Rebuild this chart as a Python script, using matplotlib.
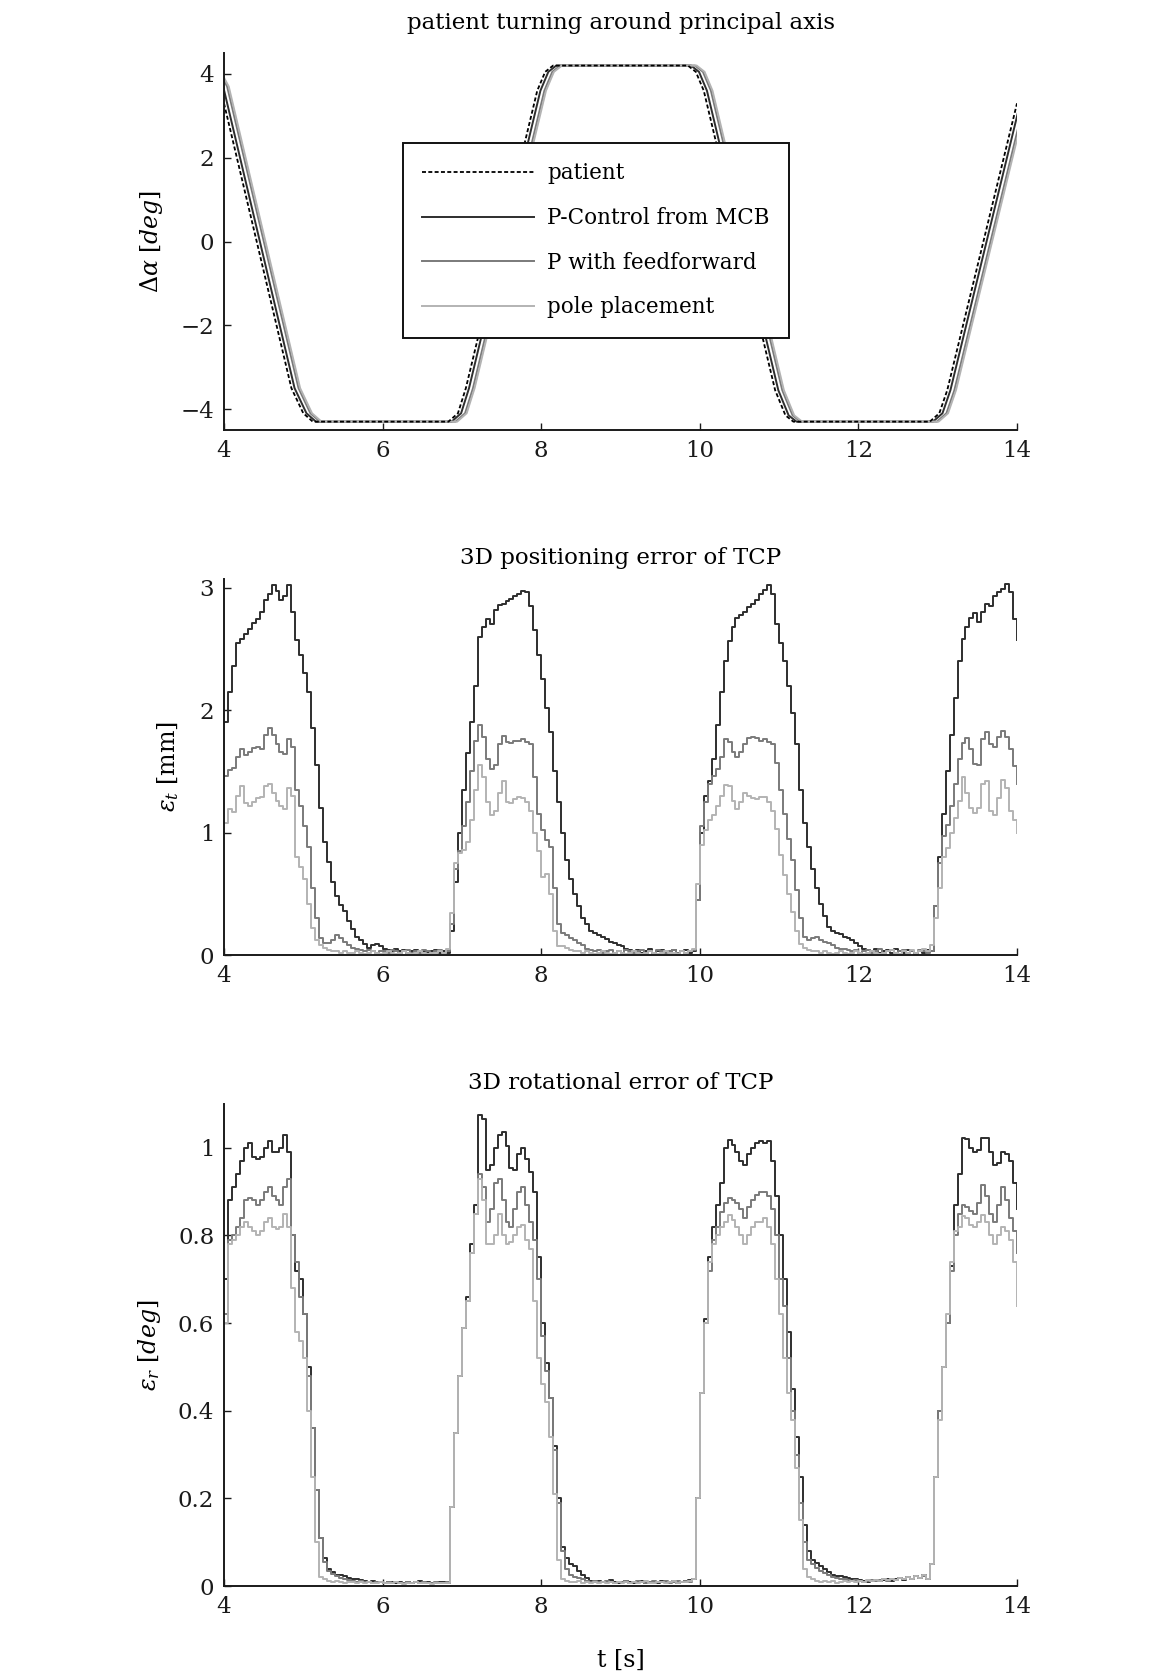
import numpy as np
import matplotlib
matplotlib.use("Agg")
import matplotlib.pyplot as plt

# ---------------- data ----------------
# top panel: rotation angle breakpoints (deg)
alpha_levels = [4.20, 4.05, 3.70, -3.50, -4.10, -4.30, -4.30, -4.10, -3.50, 3.60, 4.05,
                4.20, 4.20, 4.05, 3.60, -3.55, -4.15, -4.30, -4.30, -4.10, -3.55, 3.30]
t_patient = [3.75, 3.85, 3.95, 4.85, 5.00, 5.12, 6.83, 6.95, 7.05, 7.95, 8.05,
             8.15, 9.85, 9.95, 10.05, 10.95, 11.08, 11.18, 12.90, 13.02, 13.12, 14.00]
t_mcb = [3.79, 3.89, 3.99, 4.89, 5.04, 5.16, 6.87, 6.99, 7.09, 7.99, 8.09,
         8.19, 9.89, 9.99, 10.09, 10.99, 11.12, 11.22, 12.94, 13.06, 13.16, 14.04]
t_ff = [3.84, 3.94, 4.04, 4.94, 5.09, 5.21, 6.92, 7.04, 7.14, 8.04, 8.14,
        8.24, 9.94, 10.04, 10.14, 11.04, 11.17, 11.27, 12.99, 13.11, 13.21, 14.09]
t_pp = [3.86, 3.96, 4.06, 4.96, 5.11, 5.23, 6.94, 7.06, 7.16, 8.06, 8.16,
        8.26, 9.96, 10.06, 10.16, 11.06, 11.19, 11.29, 13.01, 13.13, 13.23, 14.11]

# error panels: samples every 0.05 s from 4.00 s to 14.00 s (one row = one second)
et_mcb = [
    1.90, 2.15, 2.36, 2.55, 2.58, 2.62, 2.66, 2.71, 2.74, 2.80, 2.90, 2.95, 3.02, 2.97, 2.90, 2.93, 3.02, 2.80, 2.57, 2.45,
    2.30, 2.15, 1.85, 1.55, 1.20, 0.92, 0.76, 0.60, 0.48, 0.41, 0.36, 0.28, 0.21, 0.15, 0.12, 0.09, 0.06, 0.08, 0.09, 0.07,
    0.05, 0.04, 0.03, 0.05, 0.03, 0.04, 0.02, 0.03, 0.04, 0.02, 0.03, 0.02, 0.03, 0.04, 0.02, 0.03, 0.02, 0.20, 0.60, 1.00,
    1.35, 1.65, 1.90, 2.20, 2.60, 2.68, 2.74, 2.70, 2.82, 2.86, 2.87, 2.89, 2.91, 2.93, 2.95, 2.97, 2.96, 2.85, 2.65, 2.45,
    2.25, 2.02, 1.82, 1.50, 1.25, 1.00, 0.78, 0.62, 0.50, 0.40, 0.30, 0.25, 0.20, 0.18, 0.16, 0.15, 0.13, 0.11, 0.10, 0.08,
    0.07, 0.05, 0.04, 0.03, 0.04, 0.02, 0.03, 0.05, 0.02, 0.03, 0.04, 0.02, 0.03, 0.04, 0.02, 0.03, 0.04, 0.02, 0.03, 0.45,
    1.00, 1.30, 1.42, 1.60, 1.88, 2.15, 2.40, 2.56, 2.68, 2.75, 2.78, 2.80, 2.84, 2.87, 2.90, 2.95, 2.98, 3.02, 2.95, 2.70,
    2.55, 2.40, 2.20, 1.98, 1.72, 1.35, 1.08, 0.88, 0.70, 0.55, 0.42, 0.32, 0.23, 0.20, 0.18, 0.17, 0.15, 0.14, 0.12, 0.10,
    0.07, 0.05, 0.04, 0.03, 0.05, 0.02, 0.03, 0.04, 0.02, 0.05, 0.03, 0.02, 0.04, 0.03, 0.01, 0.03, 0.02, 0.04, 0.03, 0.40,
    0.80, 1.15, 1.50, 1.80, 2.10, 2.40, 2.58, 2.68, 2.75, 2.79, 2.72, 2.80, 2.87, 2.85, 2.93, 2.96, 2.99, 3.03, 2.96, 2.74,
    2.57]
et_ff = [
    1.46, 1.51, 1.53, 1.62, 1.68, 1.63, 1.66, 1.69, 1.70, 1.68, 1.80, 1.85, 1.80, 1.72, 1.66, 1.64, 1.76, 1.70, 1.35, 1.22,
    1.05, 0.88, 0.55, 0.30, 0.14, 0.10, 0.10, 0.12, 0.16, 0.14, 0.11, 0.08, 0.06, 0.05, 0.04, 0.03, 0.04, 0.03, 0.02, 0.03,
    0.03, 0.02, 0.04, 0.03, 0.02, 0.03, 0.04, 0.02, 0.03, 0.02, 0.04, 0.03, 0.02, 0.03, 0.04, 0.02, 0.03, 0.25, 0.70, 0.85,
    1.05, 1.25, 1.50, 1.75, 1.88, 1.78, 1.60, 1.52, 1.55, 1.72, 1.79, 1.74, 1.73, 1.75, 1.75, 1.76, 1.74, 1.72, 1.45, 1.15,
    1.02, 0.94, 0.88, 0.55, 0.25, 0.18, 0.16, 0.14, 0.12, 0.10, 0.08, 0.05, 0.04, 0.03, 0.04, 0.02, 0.03, 0.04, 0.02, 0.03,
    0.02, 0.04, 0.03, 0.02, 0.03, 0.04, 0.02, 0.03, 0.02, 0.04, 0.03, 0.02, 0.03, 0.04, 0.02, 0.03, 0.02, 0.03, 0.04, 0.45,
    1.05, 1.25, 1.40, 1.46, 1.52, 1.62, 1.76, 1.74, 1.66, 1.62, 1.66, 1.72, 1.77, 1.78, 1.77, 1.75, 1.76, 1.74, 1.72, 1.57,
    1.35, 1.15, 0.95, 0.78, 0.53, 0.30, 0.15, 0.12, 0.14, 0.15, 0.12, 0.11, 0.10, 0.08, 0.06, 0.05, 0.05, 0.04, 0.03, 0.04,
    0.02, 0.03, 0.04, 0.02, 0.03, 0.05, 0.02, 0.03, 0.04, 0.02, 0.03, 0.04, 0.02, 0.03, 0.02, 0.04, 0.03, 0.02, 0.03, 0.40,
    0.75, 0.97, 1.06, 1.22, 1.40, 1.60, 1.73, 1.77, 1.68, 1.56, 1.55, 1.76, 1.82, 1.72, 1.70, 1.78, 1.83, 1.78, 1.68, 1.54,
    1.40]
et_pp = [
    1.08, 1.19, 1.17, 1.30, 1.38, 1.24, 1.22, 1.25, 1.28, 1.29, 1.38, 1.40, 1.32, 1.26, 1.22, 1.19, 1.36, 1.30, 0.80, 0.72,
    0.62, 0.42, 0.22, 0.12, 0.08, 0.06, 0.04, 0.03, 0.03, 0.02, 0.03, 0.02, 0.02, 0.03, 0.02, 0.01, 0.02, 0.03, 0.02, 0.01,
    0.02, 0.03, 0.02, 0.01, 0.02, 0.03, 0.02, 0.01, 0.02, 0.03, 0.02, 0.01, 0.02, 0.02, 0.03, 0.02, 0.05, 0.34, 0.75, 0.83,
    0.86, 0.92, 1.10, 1.35, 1.55, 1.45, 1.25, 1.14, 1.18, 1.32, 1.42, 1.25, 1.24, 1.27, 1.29, 1.28, 1.25, 1.18, 1.00, 0.85,
    0.64, 0.66, 0.50, 0.20, 0.07, 0.07, 0.06, 0.04, 0.03, 0.03, 0.02, 0.03, 0.02, 0.01, 0.02, 0.03, 0.02, 0.01, 0.02, 0.03,
    0.02, 0.01, 0.02, 0.03, 0.02, 0.01, 0.02, 0.03, 0.02, 0.01, 0.02, 0.03, 0.02, 0.02, 0.01, 0.03, 0.02, 0.03, 0.05, 0.58,
    0.90, 1.02, 1.10, 1.14, 1.22, 1.30, 1.39, 1.38, 1.26, 1.19, 1.25, 1.32, 1.30, 1.28, 1.27, 1.29, 1.29, 1.25, 1.18, 1.03,
    0.82, 0.65, 0.50, 0.35, 0.20, 0.09, 0.06, 0.04, 0.03, 0.03, 0.02, 0.03, 0.02, 0.01, 0.02, 0.03, 0.02, 0.01, 0.02, 0.03,
    0.02, 0.01, 0.02, 0.03, 0.02, 0.01, 0.02, 0.03, 0.04, 0.02, 0.01, 0.03, 0.02, 0.04, 0.02, 0.03, 0.05, 0.03, 0.08, 0.30,
    0.55, 0.80, 0.87, 1.00, 1.12, 1.26, 1.45, 1.32, 1.20, 1.16, 1.20, 1.40, 1.42, 1.18, 1.14, 1.28, 1.43, 1.36, 1.18, 1.10,
    1.00]

er_mcb = [
    0.70, 0.88, 0.91, 0.94, 0.97, 1.00, 1.01, 0.98, 0.975, 0.98, 1.00, 1.015, 0.99, 0.99, 1.00, 1.03, 0.99, 0.80, 0.72, 0.70,
    0.62, 0.50, 0.36, 0.22, 0.11, 0.065, 0.04, 0.032, 0.025, 0.025, 0.022, 0.018, 0.016, 0.015, 0.013, 0.012, 0.010, 0.011, 0.009, 0.010,
    0.008, 0.010, 0.009, 0.007, 0.010, 0.008, 0.009, 0.007, 0.010, 0.012, 0.008, 0.009, 0.007, 0.008, 0.010, 0.009, 0.008, 0.18, 0.35, 0.48,
    0.59, 0.66, 0.78, 0.87, 1.075, 1.065, 0.95, 0.96, 1.00, 1.03, 1.037, 1.005, 0.955, 0.95, 0.985, 1.00, 0.975, 0.945, 0.90, 0.75,
    0.60, 0.51, 0.43, 0.32, 0.20, 0.09, 0.065, 0.05, 0.045, 0.035, 0.025, 0.018, 0.012, 0.010, 0.012, 0.009, 0.010, 0.013, 0.010, 0.008,
    0.010, 0.012, 0.009, 0.008, 0.010, 0.011, 0.008, 0.009, 0.010, 0.008, 0.011, 0.009, 0.010, 0.012, 0.008, 0.010, 0.012, 0.014, 0.015, 0.20,
    0.44, 0.61, 0.75, 0.82, 0.87, 0.92, 1.00, 1.018, 1.007, 0.99, 0.97, 0.96, 0.985, 1.00, 1.01, 1.015, 1.01, 1.015, 0.97, 0.89,
    0.80, 0.70, 0.58, 0.45, 0.34, 0.25, 0.14, 0.08, 0.06, 0.052, 0.046, 0.04, 0.033, 0.026, 0.024, 0.022, 0.020, 0.018, 0.017, 0.015,
    0.014, 0.012, 0.010, 0.012, 0.014, 0.011, 0.013, 0.016, 0.012, 0.015, 0.018, 0.014, 0.020, 0.016, 0.022, 0.018, 0.025, 0.015, 0.05, 0.25,
    0.40, 0.50, 0.60, 0.73, 0.87, 0.94, 1.022, 1.02, 1.00, 0.99, 0.995, 1.022, 1.022, 0.99, 0.96, 0.965, 0.99, 0.985, 0.97, 0.92,
    0.86]
er_ff = [
    0.62, 0.79, 0.80, 0.82, 0.84, 0.88, 0.885, 0.88, 0.87, 0.88, 0.90, 0.91, 0.89, 0.88, 0.87, 0.91, 0.93, 0.80, 0.74, 0.66,
    0.62, 0.48, 0.36, 0.22, 0.11, 0.055, 0.035, 0.028, 0.022, 0.018, 0.015, 0.013, 0.012, 0.010, 0.011, 0.009, 0.010, 0.008, 0.009, 0.010,
    0.008, 0.009, 0.007, 0.010, 0.008, 0.006, 0.009, 0.008, 0.010, 0.007, 0.009, 0.008, 0.006, 0.009, 0.008, 0.007, 0.009, 0.18, 0.35, 0.48,
    0.59, 0.65, 0.76, 0.85, 0.94, 0.91, 0.83, 0.86, 0.92, 0.93, 0.88, 0.83, 0.82, 0.86, 0.90, 0.91, 0.87, 0.83, 0.79, 0.70,
    0.57, 0.49, 0.43, 0.31, 0.19, 0.08, 0.04, 0.025, 0.020, 0.018, 0.015, 0.012, 0.010, 0.011, 0.009, 0.010, 0.012, 0.009, 0.008, 0.010,
    0.009, 0.011, 0.008, 0.010, 0.012, 0.009, 0.008, 0.010, 0.011, 0.009, 0.010, 0.012, 0.008, 0.010, 0.011, 0.009, 0.012, 0.010, 0.015, 0.20,
    0.44, 0.60, 0.72, 0.79, 0.82, 0.854, 0.875, 0.885, 0.88, 0.875, 0.86, 0.84, 0.865, 0.88, 0.893, 0.90, 0.90, 0.89, 0.86, 0.80,
    0.70, 0.64, 0.52, 0.40, 0.30, 0.19, 0.10, 0.06, 0.05, 0.042, 0.035, 0.030, 0.025, 0.020, 0.018, 0.016, 0.015, 0.014, 0.012, 0.013,
    0.012, 0.010, 0.012, 0.014, 0.011, 0.013, 0.015, 0.012, 0.016, 0.014, 0.018, 0.015, 0.020, 0.017, 0.022, 0.019, 0.024, 0.016, 0.05, 0.25,
    0.40, 0.50, 0.60, 0.72, 0.80, 0.85, 0.87, 0.865, 0.855, 0.85, 0.875, 0.915, 0.89, 0.85, 0.83, 0.87, 0.91, 0.88, 0.84, 0.81,
    0.76]
er_pp = [
    0.60, 0.78, 0.79, 0.80, 0.82, 0.83, 0.82, 0.81, 0.80, 0.81, 0.83, 0.84, 0.82, 0.815, 0.82, 0.85, 0.82, 0.68, 0.58, 0.56,
    0.52, 0.40, 0.25, 0.10, 0.02, 0.015, 0.012, 0.010, 0.012, 0.010, 0.008, 0.010, 0.009, 0.007, 0.009, 0.008, 0.010, 0.007, 0.008, 0.009,
    0.007, 0.008, 0.006, 0.009, 0.007, 0.005, 0.008, 0.007, 0.009, 0.006, 0.008, 0.007, 0.005, 0.008, 0.007, 0.006, 0.008, 0.18, 0.35, 0.48,
    0.59, 0.65, 0.76, 0.85, 0.93, 0.88, 0.78, 0.78, 0.80, 0.85, 0.80, 0.78, 0.785, 0.80, 0.82, 0.825, 0.79, 0.77, 0.65, 0.52,
    0.46, 0.42, 0.34, 0.21, 0.06, 0.015, 0.012, 0.010, 0.009, 0.011, 0.008, 0.010, 0.007, 0.009, 0.008, 0.010, 0.007, 0.009, 0.008, 0.010,
    0.008, 0.009, 0.007, 0.010, 0.008, 0.009, 0.011, 0.008, 0.007, 0.009, 0.010, 0.008, 0.009, 0.011, 0.007, 0.009, 0.010, 0.012, 0.015, 0.20,
    0.44, 0.60, 0.74, 0.78, 0.80, 0.82, 0.83, 0.846, 0.835, 0.82, 0.80, 0.78, 0.80, 0.82, 0.83, 0.83, 0.84, 0.82, 0.78, 0.70,
    0.62, 0.52, 0.44, 0.38, 0.27, 0.15, 0.04, 0.02, 0.015, 0.012, 0.010, 0.012, 0.009, 0.011, 0.008, 0.010, 0.012, 0.009, 0.011, 0.010,
    0.012, 0.010, 0.013, 0.011, 0.014, 0.012, 0.015, 0.013, 0.017, 0.014, 0.019, 0.015, 0.021, 0.017, 0.023, 0.018, 0.025, 0.016, 0.05, 0.25,
    0.38, 0.50, 0.62, 0.74, 0.81, 0.82, 0.845, 0.84, 0.825, 0.82, 0.83, 0.846, 0.83, 0.80, 0.78, 0.80, 0.82, 0.81, 0.79, 0.74,
    0.64]

labels = ["patient", "P-Control from MCB", "P with feedforward", "pole placement"]
colors = ["#000000", "#2e2e2e", "#7a7a7a", "#b3b3b3"]
xticks = [4, 6, 8, 10, 12, 14]

t_err = 4.0 + 0.05 * np.arange(len(et_mcb))

# ---------------- figure ----------------
plt.rcParams["font.family"] = ["DejaVu Serif"]
plt.rcParams["mathtext.fontset"] = "dejavuserif"

fig = plt.figure(figsize=(11.51, 16.72), dpi=100)
ax1 = fig.add_axes([0.1946, 0.7428, 0.689, 0.2255])
ax2 = fig.add_axes([0.1946, 0.4288, 0.689, 0.2249])
ax3 = fig.add_axes([0.1946, 0.0514, 0.689, 0.2883])


def style(ax, ylim, yticks, yticklabels):
    ax.set_xlim(4, 14)
    ax.set_ylim(*ylim)
    for s in ["top", "right"]:
        ax.spines[s].set_visible(False)
    for s in ["left", "bottom"]:
        ax.spines[s].set_linewidth(1.4)
        ax.spines[s].set_color("#1a1a1a")
    ax.set_xticks(xticks)
    ax.set_xticklabels([str(x) for x in xticks])
    ax.set_yticks(yticks)
    ax.set_yticklabels(yticklabels)
    ax.tick_params(direction="in", length=5, width=1.0, labelsize=16.5, pad=7,
                   color="#1a1a1a", labelcolor="#1a1a1a")


lw = 1.4
# top panel
ax1.plot(t_mcb, alpha_levels, color=colors[1], lw=lw, label=labels[1])
ax1.plot(t_ff, alpha_levels, color=colors[2], lw=lw, label=labels[2])
ax1.plot(t_pp, alpha_levels, color=colors[3], lw=lw, label=labels[3])
ax1.plot(t_patient, alpha_levels, color=colors[0], lw=1.3, ls=(0, (2.2, 1.3)), label=labels[0])
style(ax1, (-4.5, 4.5), [-4, -2, 0, 2, 4], ["\u22124", "\u22122", "0", "2", "4"])
h, l = ax1.get_legend_handles_labels()
order = [3, 0, 1, 2]
leg = ax1.legend([h[i] for i in order], [l[i] for i in order], loc="upper left",
                 bbox_to_anchor=(0.2257, 0.761), borderaxespad=0, fontsize=15.5,
                 handlelength=5.2, handletextpad=0.6, labelspacing=1.05, borderpad=0.9,
                 fancybox=False, framealpha=1, edgecolor="#111111")
leg.get_frame().set_linewidth(1.4)
ax1.set_title("patient turning around principal axis", fontsize=16.5, pad=17)
ax1.set_ylabel(r"$\Delta\alpha\ [deg]$", fontsize=17)
ax1.yaxis.set_label_coords(-0.074, 0.5)

# middle panel
ax2.plot(t_err, et_mcb, drawstyle="steps-post", color=colors[1], lw=lw)
ax2.plot(t_err, et_ff, drawstyle="steps-post", color=colors[2], lw=lw)
ax2.plot(t_err, et_pp, drawstyle="steps-post", color=colors[3], lw=lw)
style(ax2, (0, 3.07), [0, 1, 2, 3], ["0", "1", "2", "3"])
ax2.set_title("3D positioning error of TCP", fontsize=16.5, pad=11)
ax2.set_ylabel(r"$\epsilon_t$ [mm]", fontsize=17)
ax2.yaxis.set_label_coords(-0.054, 0.5)

# bottom panel
ax3.plot(t_err, er_mcb, drawstyle="steps-post", color=colors[1], lw=lw)
ax3.plot(t_err, er_ff, drawstyle="steps-post", color=colors[2], lw=lw)
ax3.plot(t_err, er_pp, drawstyle="steps-post", color=colors[3], lw=lw)
style(ax3, (0, 1.1), [0, 0.2, 0.4, 0.6, 0.8, 1.0], ["0", "0.2", "0.4", "0.6", "0.8", "1"])
ax3.set_title("3D rotational error of TCP", fontsize=16.5, pad=11)
ax3.set_ylabel(r"$\epsilon_r\ [deg]$", fontsize=17)
ax3.yaxis.set_label_coords(-0.077, 0.5)
ax3.set_xlabel("t [s]", fontsize=17, labelpad=22)

fig.savefig("out.png", dpi=100)
